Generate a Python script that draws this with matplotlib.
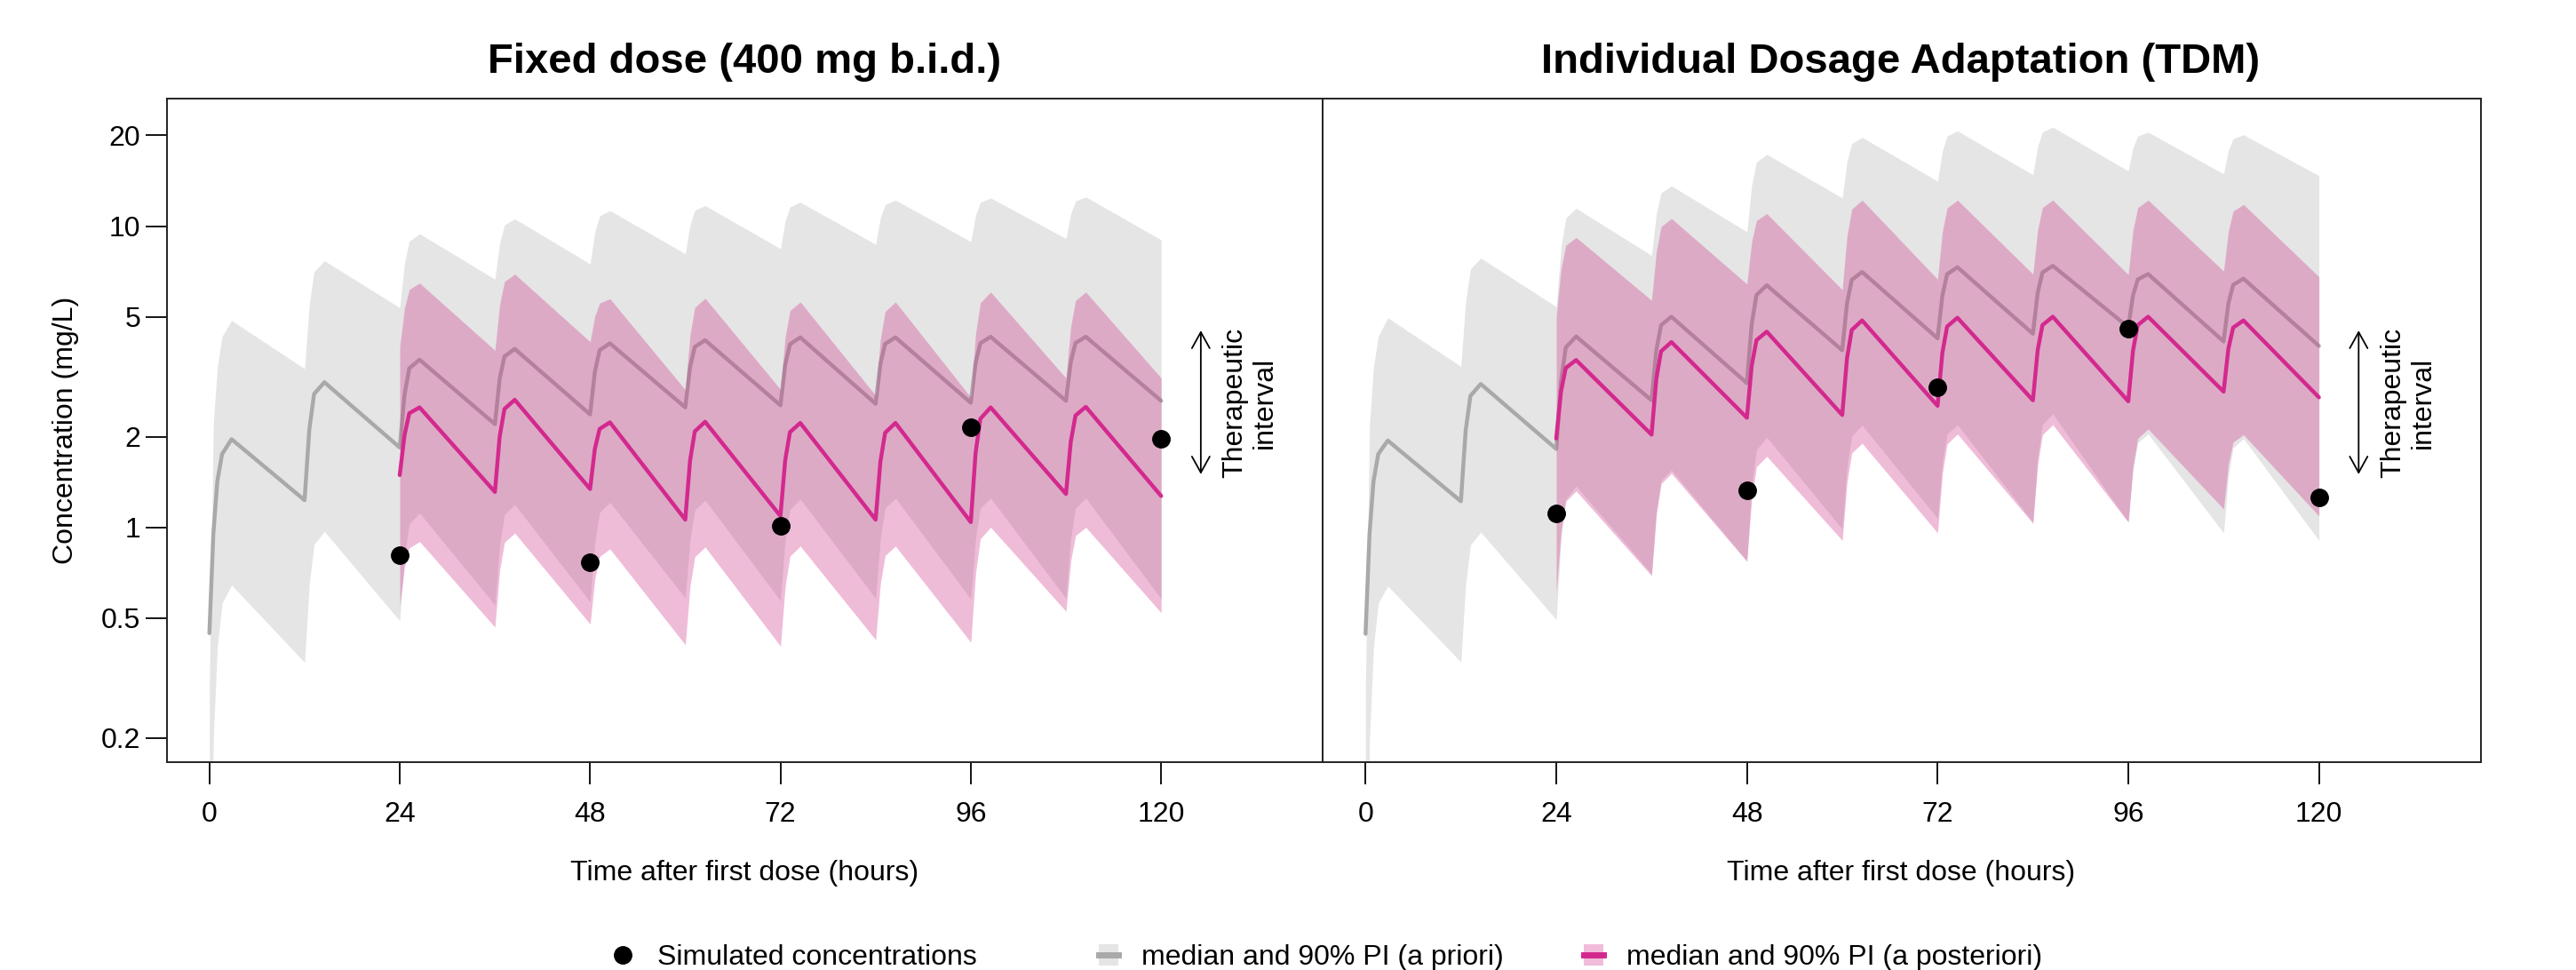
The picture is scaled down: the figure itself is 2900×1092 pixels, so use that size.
import matplotlib
matplotlib.use("Agg")
import matplotlib.pyplot as plt
from matplotlib.lines import Line2D
from matplotlib.patches import Rectangle
from matplotlib.ticker import FixedLocator, FixedFormatter, NullLocator

# ---------------- data ----------------
prior_times = [0, 0.5, 1.0, 1.6, 2.8,
               12, 12.6, 13.2, 14.5,
               24, 24.6, 25.2, 26.5,
               36, 36.6, 37.2, 38.5,
               48, 48.6, 49.2, 50.5,
               60, 60.6, 61.2, 62.5,
               72, 72.6, 73.2, 74.5,
               84, 84.6, 85.2, 86.5,
               96, 96.6, 97.2, 98.5,
               108, 108.6, 109.2, 110.5,
               120]
post_times = [24, 24.6, 25.2, 26.5,
              36, 36.6, 37.2, 38.5,
              48, 48.6, 49.2, 50.5,
              60, 60.6, 61.2, 62.5,
              72, 72.6, 73.2, 74.5,
              84, 84.6, 85.2, 86.5,
              96, 96.6, 97.2, 98.5,
              108, 108.6, 109.2, 110.5,
              120]

# Fixed dose panel
fixed_prior_median = [0.445, 0.95, 1.42, 1.75, 1.96,
                      1.23, 2.11, 2.77, 3.03,
                      1.84, 2.75, 3.37, 3.60,
                      2.20, 3.11, 3.69, 3.91,
                      2.37, 3.28, 3.87, 4.08,
                      2.50, 3.40, 3.97, 4.18,
                      2.54, 3.47, 4.05, 4.27,
                      2.57, 3.49, 4.06, 4.27,
                      2.59, 3.51, 4.08, 4.29,
                      2.63, 3.53, 4.09, 4.29,
                      2.63]
fixed_prior_upper = [0.3, 2.2, 3.4, 4.3, 4.86,
                     3.36, 5.51, 7.06, 7.67,
                     5.36, 7.52, 8.91, 9.43,
                     6.66, 8.79, 10.09, 10.57,
                     7.49, 9.56, 10.81, 11.26,
                     8.09, 10.10, 11.28, 11.7,
                     8.41, 10.41, 11.58, 12.0,
                     8.70, 10.66, 11.79, 12.2,
                     8.88, 10.85, 11.99, 12.4,
                     9.09, 11.0, 12.11, 12.5,
                     9.0]
fixed_prior_lower = [0.03, 0.2, 0.4, 0.56, 0.643,
                     0.356, 0.649, 0.877, 0.969,
                     0.489, 0.802, 1.027, 1.115,
                     0.552, 0.875, 1.102, 1.19,
                     0.565, 0.892, 1.121, 1.21,
                     0.582, 0.911, 1.141, 1.23,
                     0.570, 0.909, 1.147, 1.24,
                     0.58, 0.919, 1.158, 1.25,
                     0.578, 0.917, 1.157, 1.25,
                     0.58, 0.919, 1.158, 1.25,
                     0.578]
fixed_post_median = [1.49, 2.02, 2.39, 2.50,
                     1.31, 2.00, 2.47, 2.65,
                     1.34, 1.82, 2.12, 2.23,
                     1.06, 1.66, 2.08, 2.24,
                     1.09, 1.67, 2.07, 2.22,
                     1.06, 1.65, 2.06, 2.22,
                     1.04, 1.76, 2.29, 2.50,
                     1.29, 1.92, 2.35, 2.51,
                     1.27]
fixed_post_upper = [3.98, 5.33, 6.16, 6.47,
                    3.87, 5.49, 6.54, 6.93,
                    4.13, 5.03, 5.55, 5.74,
                    2.86, 4.35, 5.37, 5.76,
                    2.87, 4.29, 5.24, 5.60,
                    2.74, 4.21, 5.21, 5.60,
                    2.70, 4.38, 5.57, 6.04,
                    3.13, 4.64, 5.66, 6.04,
                    3.13]
fixed_post_lower = [0.55, 0.738, 0.854, 0.897,
                    0.466, 0.718, 0.891, 0.957,
                    0.477, 0.674, 0.800, 0.848,
                    0.407, 0.637, 0.798, 0.860,
                    0.403, 0.638, 0.802, 0.866,
                    0.423, 0.650, 0.806, 0.866,
                    0.415, 0.703, 0.916, 1.00,
                    0.526, 0.773, 0.938, 1.00,
                    0.52]

# Individual dosage adaptation (TDM) panel
tdm_prior_median = [0.443, 0.95, 1.42, 1.75, 1.94,
                    1.22, 2.09, 2.73, 2.99,
                    1.82, 3.05, 3.95, 4.30,
                    2.64, 3.87, 4.69, 5.00,
                    3.01, 4.71, 5.90, 6.36,
                    3.87, 5.54, 6.63, 7.04,
                    4.24, 5.87, 6.92, 7.30,
                    4.39, 6.00, 7.01, 7.38,
                    4.62, 5.89, 6.65, 6.93,
                    4.14, 5.52, 6.38, 6.69,
                    4.00]
tdm_prior_upper = [0.3, 2.2, 3.4, 4.3, 4.96,
                   3.42, 5.62, 7.21, 7.83,
                   5.40, 8.48, 10.63, 11.46,
                   7.99, 10.99, 12.9, 13.6,
                   9.57, 13.65, 16.3, 17.3,
                   12.4, 16.37, 18.8, 19.7,
                   14.1, 17.75, 19.92, 20.7,
                   14.8, 18.41, 20.54, 21.3,
                   15.25, 18.21, 19.9, 20.5,
                   14.9, 17.83, 19.5, 20.1,
                   14.7]
tdm_prior_lower = [0.03, 0.2, 0.4, 0.56, 0.638,
                   0.357, 0.648, 0.873, 0.964,
                   0.494, 0.911, 1.237, 1.37,
                   0.70, 1.128, 1.432, 1.55,
                   0.773, 1.363, 1.81, 1.99,
                   0.986, 1.587, 2.013, 2.18,
                   1.07, 1.645, 2.04, 2.19,
                   1.04, 1.71, 2.19, 2.38,
                   1.04, 1.56, 1.91, 2.04,
                   0.958, 1.476, 1.833, 1.97,
                   0.904]
tdm_post_median = [1.97, 2.82, 3.38, 3.59,
                   2.03, 3.11, 3.84, 4.12,
                   2.31, 3.43, 4.18, 4.46,
                   2.36, 3.64, 4.52, 4.86,
                   2.53, 3.79, 4.64, 4.96,
                   2.64, 3.87, 4.69, 5.00,
                   2.62, 3.86, 4.69, 5.00,
                   2.82, 3.91, 4.60, 4.86,
                   2.70]
tdm_post_upper = [5.0, 7.19, 8.63, 9.17,
                  5.67, 8.25, 9.96, 10.6,
                  6.42, 8.87, 10.43, 11.0,
                  6.15, 9.27, 11.39, 12.2,
                  6.66, 9.58, 11.48, 12.2,
                  6.93, 9.73, 11.53, 12.2,
                  6.9, 9.71, 11.52, 12.2,
                  7.09, 9.62, 11.21, 11.8,
                  6.79]
tdm_post_lower = [0.6, 0.963, 1.219, 1.32,
                  0.69, 1.104, 1.396, 1.51,
                  0.77, 1.247, 1.587, 1.72,
                  0.904, 1.412, 1.765, 1.90,
                  0.958, 1.508, 1.891, 2.04,
                  1.03, 1.62, 2.03, 2.19,
                  1.04, 1.594, 1.974, 2.12,
                  1.15, 1.617, 1.917, 2.03,
                  1.09]

obs_times = [24, 48, 72, 96, 120]
fixed_obs = [0.81, 0.766, 1.01, 2.15, 1.97]
tdm_obs = [1.11, 1.33, 2.91, 4.55, 1.26]

therapeutic_range = [1.5, 4.5]
x_ticks = [0, 24, 48, 72, 96, 120]
y_ticks = [0.2, 0.5, 1, 2, 5, 10, 20]
y_tick_labels = ["0.2", "0.5", "1", "2", "5", "10", "20"]

titles = ["Fixed dose (400 mg b.i.d.)", "Individual Dosage Adaptation (TDM)"]
x_label = "Time after first dose (hours)"
y_label = "Concentration (mg/L)"
legend_labels = ["Simulated concentrations",
                 "median and 90% PI (a priori)",
                 "median and 90% PI (a posteriori)"]

# ---------------- styling ----------------
plt.rcParams["font.family"] = ["Liberation Sans", "DejaVu Sans"]
GREY_BAND = "#E5E5E5"
GREY_LINE = "#A9A9A9"
PINK_BAND = "#CE2884"
PINK_ALPHA = 0.31
PINK_LIGHT = "#F0BCD9"
PINK_LINE = "#D3298E"
FS = 23

W, H = 2900, 1092
fig = plt.figure(figsize=(W / 100, H / 100), dpi=100)

ax_top, ax_bot = 111, 858
axL = fig.add_axes([187.5 / W, 1 - ax_bot / H, (1489 - 187.5) / W, (ax_bot - ax_top) / H])
axR = fig.add_axes([1489 / W, 1 - ax_bot / H, (2792.7 - 1489) / W, (ax_bot - ax_top) / H])


def draw_panel(ax, pm, pl, pu, qm, ql, qu, obs, show_y):
    ax.fill_between(prior_times, pl, pu, color=GREY_BAND, lw=0, zorder=1)
    ax.plot(prior_times, pm, color=GREY_LINE, lw=3.2, zorder=2,
            solid_joinstyle="round", solid_capstyle="round")
    ax.fill_between(post_times, ql, qu, color=PINK_BAND, alpha=PINK_ALPHA, lw=0, zorder=3)
    ax.plot(post_times, qm, color=PINK_LINE, lw=3.2, zorder=4,
            solid_joinstyle="round", solid_capstyle="round")
    ax.plot(obs_times, obs, "o", color="black", ms=14, zorder=5)

    ax.set_yscale("log")
    ax.set_xlim(-5.4, 140.36)
    ax.set_ylim(0.166, 26.5)

    ax.xaxis.set_major_locator(FixedLocator(x_ticks))
    ax.xaxis.set_major_formatter(FixedFormatter([str(v) for v in x_ticks]))
    ax.tick_params(axis="x", direction="out", length=18, width=1.3, pad=14,
                   labelsize=FS, colors="black")
    ax.yaxis.set_minor_locator(NullLocator())
    if show_y:
        ax.yaxis.set_major_locator(FixedLocator(y_ticks))
        ax.yaxis.set_major_formatter(FixedFormatter(y_tick_labels))
        ax.tick_params(axis="y", direction="out", length=17, width=1.3, pad=4,
                       labelsize=FS)
    else:
        ax.yaxis.set_major_locator(NullLocator())
        ax.tick_params(axis="y", left=False, labelleft=False)
    for s in ax.spines.values():
        s.set_linewidth(1.4)
        s.set_color("#222222")

    # therapeutic interval arrow and text
    ax.annotate("", xy=(125, therapeutic_range[1]), xytext=(125, therapeutic_range[0]),
                arrowprops=dict(arrowstyle="<->,head_length=0.65,head_width=0.36",
                                mutation_scale=20, lw=1.3, color="black",
                                shrinkA=0, shrinkB=0))
    mid = (therapeutic_range[0] * therapeutic_range[1]) ** 0.5
    ax.text(131.2, mid, "Therapeutic\ninterval", rotation=90, ha="center",
            va="center", fontsize=FS, linespacing=1.15, multialignment="center")


draw_panel(axL, fixed_prior_median, fixed_prior_lower, fixed_prior_upper,
           fixed_post_median, fixed_post_lower, fixed_post_upper, fixed_obs, True)
draw_panel(axR, tdm_prior_median, tdm_prior_lower, tdm_prior_upper,
           tdm_post_median, tdm_post_lower, tdm_post_upper, tdm_obs, False)

# titles and axis labels
for cx, t in zip([838, 2140], titles):
    fig.text(cx / W, 1 - 82 / H, t, ha="center", va="baseline",
             fontsize=34, fontweight="bold")
    fig.text(cx / W, 1 - 983 / H, x_label, ha="center", va="center", fontsize=FS)
fig.text(74 / W, 1 - 484.5 / H, y_label, rotation=90, ha="center", va="center",
         fontsize=FS)

# legend (three entries placed along the bottom)
dot_handle = Line2D([], [], marker="o", ls="", color="black", ms=14)
grey_handle = (Rectangle((0, 0), 1, 1, facecolor=GREY_BAND, edgecolor="none"),
               Line2D([], [], color=GREY_LINE, lw=5))
pink_handle = (Rectangle((0, 0), 1, 1, facecolor=PINK_LIGHT, edgecolor="none"),
               Line2D([], [], color=PINK_LINE, lw=5))
leg_y = 1 - 1078 / H
for handle, label, x0, pad in [(dot_handle, legend_labels[0], 690, 0.87),
                               (grey_handle, legend_labels[1], 1237, 0.81),
                               (pink_handle, legend_labels[2], 1783, 0.81)]:
    fig.legend([handle], [label], loc="center left", bbox_to_anchor=(x0 / W, leg_y),
               frameon=False, fontsize=FS, handlelength=0.7, handleheight=0.8,
               handletextpad=pad, borderpad=0, borderaxespad=0)

fig.savefig("out.png", dpi=100)
